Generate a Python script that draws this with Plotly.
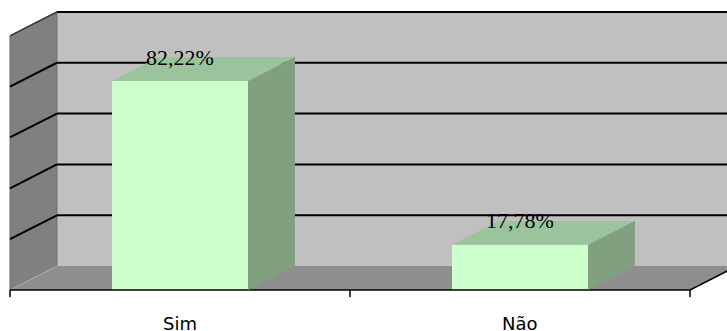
import plotly.graph_objects as go

categories = ["Sim", "Não"]
values = [82.22, 17.78]
labels = ["82,22%", "17,78%"]
grid_values = [20, 40, 60, 80]
axis_max = 100

# 3D depth offsets (in data units)
DX = 0.138
DY = 9.4
BW = 0.4
xs = list(range(len(categories)))
XL, XR = -0.5, len(categories) - 0.5

FRONT = "#CCFFCC"
TOP = "#9CC49C"
SIDE = "#80A080"

def poly(pts):
    return "M " + " L ".join(f"{x},{y}" for x, y in pts) + " Z"

shapes = []
# back wall
shapes.append(dict(type="path", layer="below", xref="x", yref="y",
                   path=poly([(XL + DX, DY), (XR + DX, DY), (XR + DX, axis_max + DY), (XL + DX, axis_max + DY)]),
                   fillcolor="#C0C0C0", line=dict(width=0)))
# left wall
shapes.append(dict(type="path", layer="below", xref="x", yref="y",
                   path=poly([(XL, 0), (XL, axis_max), (XL + DX, axis_max + DY), (XL + DX, DY)]),
                   fillcolor="#808080", line=dict(color="#6a6a6a", width=1)))
# floor
shapes.append(dict(type="path", layer="below", xref="x", yref="y",
                   path=poly([(XL, 0), (XR, 0), (XR + DX, DY), (XL + DX, DY)]),
                   fillcolor="#8E8E8E", line=dict(width=0)))
# gridlines (back wall + left wall)
for g in grid_values:
    shapes.append(dict(type="line", layer="below", xref="x", yref="y",
                       x0=XL + DX, x1=XR + DX, y0=g + DY, y1=g + DY, line=dict(color="black", width=2)))
    shapes.append(dict(type="line", layer="below", xref="x", yref="y",
                       x0=XL, x1=XL + DX, y0=g, y1=g + DY, line=dict(color="black", width=2)))
# top edges
shapes.append(dict(type="line", layer="below", xref="x", yref="y",
                   x0=XL + DX, x1=XR + DX, y0=axis_max + DY, y1=axis_max + DY, line=dict(color="black", width=2)))
shapes.append(dict(type="line", layer="below", xref="x", yref="y",
                   x0=XL, x1=XL + DX, y0=axis_max, y1=axis_max + DY, line=dict(color="#333333", width=1.5)))
# floor/left-wall junction
shapes.append(dict(type="line", layer="below", xref="x", yref="y",
                   x0=XL, x1=XL + DX, y0=0, y1=DY, line=dict(color="#b0b0b0", width=1)))
# floor front & right edges
shapes.append(dict(type="line", layer="above", xref="x", yref="y",
                   x0=XL, x1=XR, y0=0, y1=0, line=dict(color="black", width=1.5)))
shapes.append(dict(type="line", layer="below", xref="x", yref="y",
                   x0=XR, x1=XR + DX, y0=0, y1=DY, line=dict(color="black", width=1.5)))
# ticks
for t in [XL + i for i in range(len(categories) + 1)]:
    shapes.append(dict(type="line", layer="above", xref="x", yref="y",
                       x0=t, x1=t, y0=0, y1=-2.8, line=dict(color="black", width=1.5)))
# bar top and side faces
for x, v in zip(xs, values):
    shapes.append(dict(type="path", layer="above", xref="x", yref="y",
                       path=poly([(x - BW / 2, v), (x + BW / 2, v), (x + BW / 2 + DX, v + DY), (x - BW / 2 + DX, v + DY)]),
                       fillcolor=TOP, line=dict(width=0)))
    shapes.append(dict(type="path", layer="above", xref="x", yref="y",
                       path=poly([(x + BW / 2, 0), (x + BW / 2, v), (x + BW / 2 + DX, v + DY), (x + BW / 2 + DX, DY)]),
                       fillcolor=SIDE, line=dict(width=0)))

fig = go.Figure(go.Bar(x=xs, y=values, base=0, width=BW,
                       marker=dict(color=FRONT, line=dict(width=0)), hoverinfo="skip"))

annotations = []
for x, v, lab in zip(xs, values, labels):
    annotations.append(dict(x=x, y=v + DY, xref="x", yref="y", text=lab, showarrow=False,
                            font=dict(family="Liberation Serif", size=22, color="black"),
                            xanchor="center", yanchor="middle"))
for x, c in zip(xs, categories):
    annotations.append(dict(x=x, y=-13.2, xref="x", yref="y", text=c, showarrow=False,
                            font=dict(family="DejaVu Sans", size=18, color="black"),
                            xanchor="center", yanchor="middle"))

fig.update_layout(
    width=727, height=331, margin=dict(l=0, r=0, t=0, b=0),
    paper_bgcolor="white", plot_bgcolor="white",
    showlegend=False, shapes=shapes, annotations=annotations,
    xaxis=dict(range=[-180 / 340, 547 / 340], visible=False, fixedrange=True),
    yaxis=dict(range=[-41 / 2.542, 290 / 2.542], visible=False, fixedrange=True),
)
fig.write_html("out.html")
